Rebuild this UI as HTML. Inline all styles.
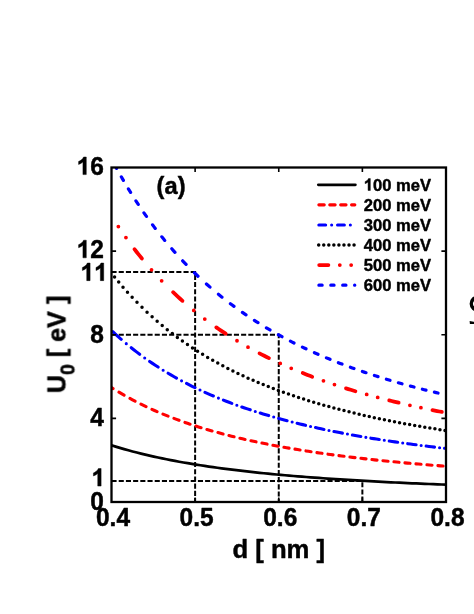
<!DOCTYPE html>
<html><head><meta charset="utf-8"><title>fig</title>
<style>
html,body{margin:0;padding:0;background:#fff;}
body{width:474px;height:614px;overflow:hidden;}
svg{display:block;}
text{font-family:"Liberation Sans",sans-serif;font-weight:bold;fill:#000;stroke:#000;stroke-width:0.45px;stroke-linejoin:round;}
</style></head><body>
<svg width="474" height="614" viewBox="0 0 474 614">
<rect x="0" y="0" width="474" height="614" fill="#fff"/>
<g opacity="0.999">
<defs><clipPath id="c"><rect x="111.5" y="167.5" width="334.5" height="334.5"/></clipPath></defs>
<path d="M111.5,272.03H195.12V502.0M111.5,334.75H278.75V502.0M111.5,481.09H362.37V502.0" stroke="#000" stroke-width="2.0" stroke-dasharray="5.1 2.1" fill="none"/>
<g clip-path="url(#c)">
<path d="M111.50,445.32 L115.63,446.61 L119.87,447.89 L124.10,449.13 L128.34,450.31 L132.58,451.46 L136.82,452.56 L141.06,453.62 L145.30,454.65 L149.53,455.64 L153.77,456.60 L158.01,457.52 L162.25,458.42 L166.49,459.28 L170.73,460.12 L174.96,460.93 L179.20,461.71 L183.44,462.47 L187.68,463.20 L191.92,463.91 L196.16,464.60 L200.40,465.27 L204.63,465.92 L208.87,466.55 L213.11,467.16 L217.35,467.75 L221.59,468.32 L225.71,468.87 L229.95,469.41 L234.19,469.94 L238.43,470.45 L242.67,470.95 L246.91,471.43 L251.14,471.90 L255.38,472.36 L259.62,472.81 L263.86,473.24 L268.10,473.66 L272.34,474.08 L276.58,474.48 L280.81,474.87 L285.05,475.25 L289.29,475.62 L293.53,475.98 L297.77,476.33 L302.01,476.68 L306.24,477.01 L310.48,477.34 L314.72,477.66 L318.96,477.97 L323.20,478.27 L327.44,478.57 L331.67,478.86 L335.80,479.14 L340.04,479.41 L344.28,479.68 L348.52,479.95 L352.75,480.21 L356.99,480.46 L361.23,480.70 L365.47,480.95 L369.71,481.18 L373.95,481.41 L378.19,481.64 L382.42,481.86 L386.66,482.08 L390.90,482.29 L395.14,482.49 L399.38,482.70 L403.62,482.90 L407.85,483.09 L412.09,483.28 L416.33,483.47 L420.57,483.65 L424.81,483.83 L429.05,484.00 L433.28,484.17 L437.52,484.34 L441.76,484.51 L446.00,484.67" fill="none" stroke="#000" stroke-width="2.7"/>
<path d="M111.50,387.60 L113.05,388.58M118.95,392.20 L121.50,393.70 L124.05,395.18M129.95,398.46 L132.50,399.82 L135.05,401.16M140.95,404.15 L143.50,405.39 L146.05,406.61M151.95,409.34 L154.50,410.47 L157.05,411.59M162.95,414.08 L165.50,415.12 L168.05,416.14M173.95,418.42 L176.50,419.38 L179.05,420.32M184.95,422.41 L187.50,423.29 L190.05,424.16M195.95,426.09 L198.50,426.90 L201.05,427.70M206.95,429.48 L209.50,430.23 L212.05,430.96M217.95,432.62 L220.50,433.31 L223.05,433.99M228.95,435.52 L231.50,436.16 L234.05,436.79M239.95,438.21 L242.50,438.81 L245.05,439.40M250.95,440.72 L253.50,441.27 L256.05,441.82M261.95,443.05 L264.50,443.57 L267.05,444.08M272.95,445.22 L275.50,445.71 L278.05,446.18M283.95,447.25 L286.50,447.71 L289.05,448.15M294.95,449.15 L297.50,449.58 L300.05,449.99M305.95,450.93 L308.50,451.33 L311.05,451.72M316.95,452.60 L319.50,452.97 L322.05,453.34M327.95,454.17 L330.50,454.52 L333.05,454.86M338.95,455.64 L341.50,455.97 L344.05,456.29M349.95,457.03 L352.50,457.34 L355.05,457.64M360.95,458.33 L363.50,458.62 L366.05,458.91M371.95,459.56 L374.50,459.84 L377.05,460.11M382.95,460.73 L385.50,460.99 L388.05,461.25M393.95,461.83 L396.50,462.07 L399.05,462.32M404.95,462.87 L407.50,463.10 L410.05,463.33M415.95,463.85 L418.50,464.08 L421.05,464.29M426.95,464.79 L429.50,465.00 L432.05,465.21M437.95,465.67 L440.50,465.87 L443.05,466.07" fill="none" stroke="#ff0000" stroke-width="3.1" stroke-linecap="round"/>
<path d="M112.82,331.65 L115.62,334.27 L118.42,336.82 L121.22,339.31M126.27,343.65h0.01M131.25,347.74 L134.05,349.96 L136.85,352.13 L139.65,354.25M144.70,357.95h0.01M149.68,361.45 L152.48,363.36 L155.28,365.22 L158.08,367.04M163.13,370.23h0.01M168.11,373.24 L170.91,374.89 L173.71,376.50 L176.51,378.07M181.56,380.83h0.01M186.54,383.45 L189.34,384.88 L192.14,386.28 L194.94,387.65M199.99,390.05h0.01M204.97,392.34 L207.77,393.58 L210.57,394.81 L213.37,396.01M218.42,398.12h0.01M223.40,400.12 L226.20,401.22 L229.00,402.30 L231.80,403.35M236.85,405.21h0.01M241.83,406.98 L244.63,407.95 L247.43,408.90 L250.23,409.84M255.28,411.48h0.01M260.26,413.05 L263.06,413.91 L265.86,414.76 L268.66,415.59M273.71,417.05h0.01M278.69,418.45 L281.49,419.22 L284.29,419.97 L287.09,420.71M292.14,422.02h0.01M297.12,423.27 L299.92,423.96 L302.72,424.63 L305.52,425.30M310.57,426.47h0.01M315.55,427.59 L318.35,428.21 L321.15,428.81 L323.95,429.41M329.00,430.47h0.01M333.98,431.48 L336.78,432.03 L339.58,432.58 L342.38,433.12M347.43,434.07h0.01M352.41,434.99 L355.21,435.49 L358.01,435.99 L360.81,436.47M365.86,437.34h0.01M370.84,438.16 L373.64,438.62 L376.44,439.07 L379.24,439.51M384.29,440.30h0.01M389.27,441.05 L392.07,441.47 L394.87,441.88 L397.67,442.28M402.72,442.99h0.01M407.70,443.68 L410.50,444.06 L413.30,444.43 L416.10,444.80M421.15,445.45h0.01M426.13,446.08 L428.93,446.43 L431.73,446.77 L434.53,447.11M439.58,447.70h0.01M444.56,448.28 L446.00,448.44" fill="none" stroke="#0000ff" stroke-width="3.1" stroke-linecap="round"/>
<path d="M114.56,277.06h0.01M118.71,282.11h0.01M123.01,287.16h0.01M127.48,292.21h0.01M132.13,297.26h0.01M136.98,302.31h0.01M142.00,307.33h0.01M147.05,312.17h0.01M152.10,316.81h0.01M157.15,321.26h0.01M162.20,325.53h0.01M167.25,329.64h0.01M172.30,333.59h0.01M177.35,337.39h0.01M182.40,341.04h0.01M187.45,344.55h0.01M192.50,347.94h0.01M197.55,351.20h0.01M202.60,354.34h0.01M207.65,357.38h0.01M212.70,360.30h0.01M217.75,363.12h0.01M222.80,365.85h0.01M227.85,368.48h0.01M232.90,371.02h0.01M237.95,373.48h0.01M243.00,375.85h0.01M248.05,378.15h0.01M253.10,380.37h0.01M258.15,382.52h0.01M263.20,384.61h0.01M268.25,386.62h0.01M273.30,388.58h0.01M278.35,390.47h0.01M283.40,392.31h0.01M288.45,394.09h0.01M293.50,395.82h0.01M298.55,397.50h0.01M303.60,399.12h0.01M308.65,400.70h0.01M313.70,402.24h0.01M318.75,403.73h0.01M323.80,405.17h0.01M328.85,406.58h0.01M333.90,407.95h0.01M338.95,409.28h0.01M344.00,410.57h0.01M349.05,411.83h0.01M354.10,413.05h0.01M359.15,414.25h0.01M364.20,415.41h0.01M369.25,416.54h0.01M374.30,417.64h0.01M379.35,418.71h0.01M384.40,419.75h0.01M389.45,420.77h0.01M394.50,421.76h0.01M399.55,422.73h0.01M404.60,423.67h0.01M409.65,424.59h0.01M414.70,425.49h0.01M419.75,426.37h0.01M424.80,427.22h0.01M429.85,428.05h0.01M434.90,428.87h0.01M439.95,429.66h0.01M445.00,430.44h0.01" fill="none" stroke="#000000" stroke-width="3.5" stroke-linecap="round"/>
<path d="M118.36,226.61h0.01M125.94,237.61h0.01M134.46,249.14 L136.28,251.49 L138.13,253.84 L140.00,256.19 L141.91,258.54M151.51,269.84h0.01M161.65,280.84h0.01M173.07,292.22 L175.42,294.44 L177.77,296.62 L180.12,298.76 L182.47,300.86M193.77,310.46h0.01M204.77,319.08h0.01M216.30,327.40 L218.65,329.02 L221.00,330.61 L223.35,332.17 L225.70,333.71M237.00,340.77h0.01M248.00,347.16h0.01M259.53,353.37 L261.88,354.59 L264.23,355.78 L266.58,356.96 L268.93,358.11M280.23,363.46h0.01M291.23,368.31h0.01M302.76,373.07 L305.11,374.00 L307.46,374.92 L309.81,375.82 L312.16,376.72M323.46,380.85h0.01M334.46,384.62h0.01M345.99,388.34 L348.34,389.07 L350.69,389.79 L353.04,390.50 L355.39,391.20M366.69,394.46h0.01M377.69,397.45h0.01M389.22,400.41 L391.57,400.99 L393.92,401.56 L396.27,402.13 L398.62,402.69M409.92,405.30h0.01M420.92,407.71h0.01M432.45,410.09 L434.80,410.56 L437.15,411.03 L439.50,411.49 L441.85,411.95" fill="none" stroke="#ff0000" stroke-width="3.8" stroke-linecap="round"/>
<path d="M116.18,167.58 L116.64,168.42M121.33,176.82 L122.36,178.62 L123.41,180.42M128.39,188.82 L129.49,190.62 L130.60,192.42M135.91,200.82 L137.08,202.62 L138.26,204.42M143.94,212.82 L145.20,214.62 L146.46,216.42M152.55,224.82 L153.90,226.62 L155.26,228.42M161.81,236.82 L163.26,238.62 L164.73,240.42M171.81,248.82 L173.38,250.62 L174.97,252.42M182.65,260.82 L184.35,262.62 L186.08,264.42M194.40,272.77 L196.20,274.51 L198.00,276.23M206.40,283.95 L208.20,285.55 L210.00,287.12M218.40,294.22 L220.20,295.68 L222.00,297.13M230.40,303.66 L232.20,305.01 L234.00,306.34M242.40,312.36 L244.20,313.61 L246.00,314.84M254.40,320.40 L256.20,321.55 L258.00,322.69M266.40,327.84 L268.20,328.91 L270.00,329.96M278.40,334.74 L280.20,335.73 L282.00,336.71M290.40,341.15 L292.20,342.07 L294.00,342.98M302.40,347.11 L304.20,347.97 L306.00,348.82M314.40,352.67 L316.20,353.47 L318.00,354.26M326.40,357.86 L328.20,358.60 L330.00,359.34M338.40,362.70 L340.20,363.40 L342.00,364.10M350.40,367.24 L352.20,367.90 L354.00,368.55M362.40,371.50 L364.20,372.11 L366.00,372.72M374.40,375.49 L376.20,376.06 L378.00,376.64M386.40,379.24 L388.20,379.78 L390.00,380.32M398.40,382.77 L400.20,383.28 L402.00,383.78M410.40,386.09 L412.20,386.57 L414.00,387.05M422.40,389.22 L424.20,389.68 L426.00,390.13M434.40,392.18 L436.20,392.61 L438.00,393.04" fill="none" stroke="#0000ff" stroke-width="3.2" stroke-linecap="round"/>
</g>
<path d="M111.5,418.38h4.6M446.0,418.38h-4.6M111.5,334.75h4.6M446.0,334.75h-4.6M111.5,251.12h4.6M446.0,251.12h-4.6M195.12,167.5v4.6M195.12,502.0v-4.6M278.75,167.5v4.6M278.75,502.0v-4.6M362.37,167.5v4.6M362.37,502.0v-4.6" stroke="#000" stroke-width="1.6" fill="none"/>
<rect x="111.5" y="167.5" width="334.5" height="334.5" fill="none" stroke="#000" stroke-width="2.3"/>
<text transform="translate(90.27,510.00) scale(1,1.035)" font-size="24.5">0</text>
<path d="M806,0H525V1059Q371,915 162,846V1101Q272,1137 401,1237.5Q530,1338 578,1472H806Z" transform="translate(91.47,486.09) scale(0.01196,-0.01196)" fill="#000" stroke="#000" stroke-width="0.45" vector-effect="non-scaling-stroke"/>
<text transform="translate(90.27,426.38) scale(1,1.035)" font-size="24.5">4</text>
<text transform="translate(90.27,342.75) scale(1,1.035)" font-size="24.5">8</text>
<path d="M806,0H525V1059Q371,915 162,846V1101Q272,1137 401,1237.5Q530,1338 578,1472H806Z" transform="translate(80.45,280.63) scale(0.01196,-0.01196)" fill="#000" stroke="#000" stroke-width="0.45" vector-effect="non-scaling-stroke"/><path d="M806,0H525V1059Q371,915 162,846V1101Q272,1137 401,1237.5Q530,1338 578,1472H806Z" transform="translate(94.07,280.63) scale(0.01196,-0.01196)" fill="#000" stroke="#000" stroke-width="0.45" vector-effect="non-scaling-stroke"/>
<path d="M806,0H525V1059Q371,915 162,846V1101Q272,1137 401,1237.5Q530,1338 578,1472H806Z" transform="translate(76.65,257.82) scale(0.01196,-0.01196)" fill="#000" stroke="#000" stroke-width="0.45" vector-effect="non-scaling-stroke"/><text transform="translate(90.27,257.82) scale(1,1.035)" font-size="24.5">2</text>
<path d="M806,0H525V1059Q371,915 162,846V1101Q272,1137 401,1237.5Q530,1338 578,1472H806Z" transform="translate(76.65,174.60) scale(0.01196,-0.01196)" fill="#000" stroke="#000" stroke-width="0.45" vector-effect="non-scaling-stroke"/><text transform="translate(90.27,174.60) scale(1,1.035)" font-size="24.5">6</text>
<text transform="translate(95.97,525.80) scale(1,1.035)" font-size="24.5">0.4</text>
<text transform="translate(179.60,525.80) scale(1,1.035)" font-size="24.5">0.5</text>
<text transform="translate(263.22,525.80) scale(1,1.035)" font-size="24.5">0.6</text>
<text transform="translate(346.85,525.80) scale(1,1.035)" font-size="24.5">0.7</text>
<text transform="translate(430.47,525.80) scale(1,1.035)" font-size="24.5">0.8</text>
<path d="M318.30,184.80H355.40" stroke="#000" stroke-width="2.7" stroke-linecap="round"/>
<path d="M318.85,204.87H324.25M329.75,204.87H335.15M340.65,204.87H346.05M351.55,204.87H354.85" fill="none" stroke="#ff0000" stroke-width="3.1" stroke-linecap="round"/>
<path d="M318.85,224.94H325.65M331.65,224.94h0.01M337.55,224.94H344.35M350.35,224.94h0.01" fill="none" stroke="#0000ff" stroke-width="3.1" stroke-linecap="round"/>
<path d="M318.70,245.01h0.01M323.75,245.01h0.01M328.80,245.01h0.01M333.85,245.01h0.01M338.90,245.01h0.01M343.95,245.01h0.01M349.00,245.01h0.01M354.05,245.01h0.01" fill="none" stroke="#000000" stroke-width="3.5" stroke-linecap="round"/>
<path d="M319.20,265.08H328.40M339.80,265.08h0.01M351.15,265.08h0.01" fill="none" stroke="#ff0000" stroke-width="3.8" stroke-linecap="round"/>
<path d="M318.90,285.15H322.15M330.80,285.15H334.05M342.70,285.15H345.95M354.60,285.15H354.80" fill="none" stroke="#0000ff" stroke-width="3.2" stroke-linecap="round"/>
<path d="M806,0H525V1059Q371,915 162,846V1101Q272,1137 401,1237.5Q530,1338 578,1472H806Z" transform="translate(363.80,190.50) scale(0.00811,-0.00811)" fill="#000" stroke="#000" stroke-width="0.45" vector-effect="non-scaling-stroke"/><text transform="translate(373.03,190.50) scale(1,1.0)" font-size="16.6">00 meV</text>
<text transform="translate(363.80,210.57) scale(1,1.0)" font-size="16.6">200 meV</text>
<text transform="translate(363.80,230.64) scale(1,1.0)" font-size="16.6">300 meV</text>
<text transform="translate(363.80,250.71) scale(1,1.0)" font-size="16.6">400 meV</text>
<text transform="translate(363.80,270.78) scale(1,1.0)" font-size="16.6">500 meV</text>
<text transform="translate(363.80,290.85) scale(1,1.0)" font-size="16.6">600 meV</text>
<text transform="translate(156.60,194.00) scale(1,1.0)" font-size="23.7">(a)</text>
<text transform="translate(278.75,557.70) scale(1,1.0)" font-size="25.7" text-anchor="middle">d [ nm ]</text>
<text transform="translate(65.4,393.2) rotate(-90) scale(1,1.04)" font-size="25.2">U<tspan font-size="19.4" dy="9.2">0</tspan><tspan dy="-9.2"> [ eV ]</tspan></text>
<path fill="#000" fill-rule="evenodd" d="M469.6,303.7a9,8.6 0 1,0 18,0a9,8.6 0 1,0 -18,0ZM472.9,303.7a5.7,4.6 0 1,0 11.4,0a5.7,4.6 0 1,0 -11.4,0Z"/>
<path fill="#000" d="M469.6,321.0L475,322.0V324.1H469.9Z"/>
</g>
</svg>
</body></html>
